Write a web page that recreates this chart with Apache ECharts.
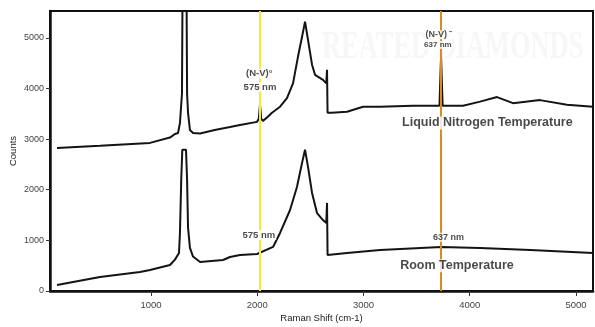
<!DOCTYPE html>
<html>
<head>
<meta charset="utf-8">
<script src="https://cdn.jsdelivr.net/npm/echarts@6/dist/echarts.min.js"></script>
<style>
  html, body { margin: 0; padding: 0; background: #fff; }
  #ramanChart { width: 595px; height: 327px; }
</style>
</head>
<body>
<div id="ramanChart"></div>
<script>
// Raman shift (cm-1) and counts
const ln2Shift = [116, 520, 991, 1179, 1226, 1255, 1273, 1292, 1300, 1332, 1340, 1349, 1367, 1396, 1462, 1600, 1744, 1838, 1998, 2015, 2026, 2038, 2054, 2100, 2139, 2215, 2280, 2337, 2384, 2422, 2450, 2478, 2516, 2544, 2619, 2650, 2657, 2662, 2700, 2845, 2996, 3156, 3466, 3715, 3730, 3745, 3937, 4097, 4257, 4407, 4661, 4915, 5160]
const ln2Counts = [2826, 2870, 2925, 3030, 3100, 3120, 3320, 3900, 7000, 7000, 3900, 3520, 3180, 3120, 3110, 3180, 3240, 3280, 3340, 3400, 3680, 3400, 3360, 3440, 3520, 3640, 3810, 4100, 4630, 5020, 5320, 4960, 4470, 4270, 4170, 4100, 4370, 3520, 3520, 3540, 3640, 3640, 3660, 3660, 4630, 3660, 3660, 3740, 3830, 3710, 3770, 3680, 3640]

const roomShift = [116, 520, 897, 991, 1179, 1226, 1264, 1273, 1285, 1295, 1330, 1340, 1349, 1367, 1396, 1462, 1678, 1744, 1838, 1998, 2149, 2215, 2309, 2374, 2422, 2450, 2478, 2516, 2563, 2619, 2650, 2657, 2662, 2845, 3156, 3730, 4097, 4570, 5160]
const roomCounts = [119, 277, 375, 415, 514, 620, 750, 1150, 2200, 2790, 2790, 2200, 1250, 850, 680, 573, 613, 672, 711, 731, 870, 1146, 1600, 2055, 2530, 2790, 2450, 1937, 1540, 1400, 1344, 1740, 711, 750, 810, 870, 850, 810, 750]

const xTicks = [1000, 2000, 3000, 4000, 5000]
const yTicks = [0, 1000, 2000, 3000, 4000, 5000]

// N-V centre lines
const nv0Shift = 2026
const nvMinusShift = 3730

// annotation texts: [text, shift, counts, fontSize]
const notes = [
  ['(N-V)°', 2020, 4290, 9.5],
  ['575 nm', 2026, 4030, 9.5],
  ['575 nm', 2016, 1107, 9.5],
  ['(N-V) ⁻', 3710, 5060, 9],
  ['637 nm', 3700, 4860, 8],
  ['637 nm', 3800, 1060, 9],
  ['Liquid Nitrogen Temperature', 4166, 3320, 12.5],
  ['Room Temperature', 3880, 500, 12.5]
]

const chartDom = document.getElementById('ramanChart')
const myChart = echarts.init(chartDom)

const pairs = (xs, ys) => xs.map((x, i) => [x, ys[i]])

const option = {
  animation: false,
  backgroundColor: '#fff',
  textStyle: { fontFamily: 'Liberation Sans, Arial, sans-serif' },
  graphic: [
    {
      type: 'text',
      left: 322,
      top: 28,
      z: -10,
      scaleX: 0.66,
      style: {
        text: 'REATED DIAMONDS',
        fill: '#f7f7f7',
        font: 'bold 40px Liberation Serif, serif'
      }
    }
  ],
  grid: {
    left: 50,
    right: 2,
    top: 11,
    bottom: 36,
    outerBoundsMode: 'none',
    show: true,
    borderColor: '#111',
    borderWidth: 2
  },
  xAxis: {
    type: 'value',
    min: 50,
    max: 5160,
    name: 'Raman Shift (cm-1)',
    nameLocation: 'middle',
    nameGap: 22,
    nameMoveOverlap: false,
    nameTextStyle: { fontSize: 9.5, color: '#222' },
    splitLine: { show: false },
    axisLine: { lineStyle: { color: '#111', width: 2.5 } },
    axisTick: { customValues: xTicks, length: 5, lineStyle: { color: '#333' } },
    axisLabel: { customValues: xTicks, fontSize: 9.5, color: '#444', margin: 9, formatter: v => String(v) }
  },
  yAxis: {
    type: 'value',
    min: 0,
    max: 5530,
    name: 'Counts',
    nameLocation: 'middle',
    nameRotate: 90,
    nameGap: 32,
    nameMoveOverlap: false,
    nameTextStyle: { fontSize: 9.5, color: '#222' },
    splitLine: { show: false },
    axisLine: { show: true, lineStyle: { color: '#111', width: 2.5 } },
    axisTick: { show: true, customValues: yTicks, length: 4, lineStyle: { color: '#333' } },
    axisLabel: { customValues: yTicks, fontSize: 9, color: '#444', margin: 6, formatter: v => String(v) }
  },
  series: [
    {
      name: 'N-V lines',
      type: 'line',
      data: [],
      z: 1,
      markLine: {
        silent: true,
        symbol: 'none',
        label: { show: false },
        data: [
          { xAxis: nv0Shift, lineStyle: { color: '#f2ea3c', width: 2, type: 'solid' } },
          { xAxis: nvMinusShift, lineStyle: { color: '#dd8a1c', width: 2, type: 'solid' } }
        ]
      }
    },
    {
      name: 'Liquid Nitrogen Temperature',
      type: 'line',
      z: 3,
      showSymbol: false,
      clip: true,
      lineStyle: { color: '#141414', width: 2 },
      data: pairs(ln2Shift, ln2Counts)
    },
    {
      name: 'Room Temperature',
      type: 'line',
      z: 3,
      showSymbol: false,
      clip: true,
      lineStyle: { color: '#141414', width: 2 },
      data: pairs(roomShift, roomCounts)
    },
    {
      name: 'notes',
      type: 'scatter',
      z: 5,
      symbolSize: 0,
      silent: true,
      data: notes.map(n => ({
        value: [n[1], n[2]],
        label: {
          show: true,
          position: 'inside',
          formatter: n[0],
          fontSize: n[3],
          fontWeight: 'bold',
          color: '#1a1a1a',
          backgroundColor: '#fff',
          padding: [0, 1]
        }
      }))
    }
  ]
}

option && myChart.setOption(option)
</script>
</body>
</html>
